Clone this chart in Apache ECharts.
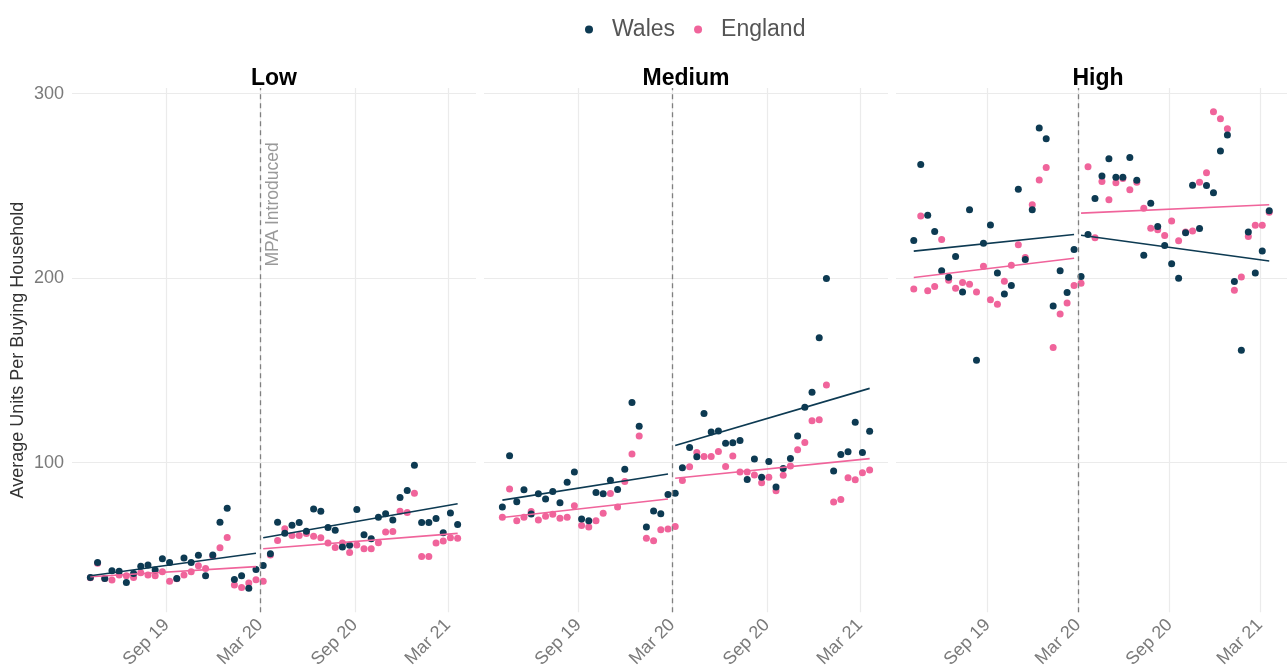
<!DOCTYPE html>
<html>
<head>
<meta charset="utf-8">
<script src="https://cdn.jsdelivr.net/npm/echarts@6/dist/echarts.min.js"></script>
<style>html,body{margin:0;padding:0;background:#fff}#c{width:1287px;height:671px}</style>
</head>
<body>
<div id="c"></div>
<script>
// ---------- DATA ----------
const dates = ['2019-04-06','2019-04-20','2019-05-04','2019-05-18','2019-06-01','2019-06-15','2019-06-29','2019-07-13','2019-07-27','2019-08-10','2019-08-24','2019-09-07','2019-09-21','2019-10-05','2019-10-19','2019-11-02','2019-11-16','2019-11-30','2019-12-14','2019-12-28','2020-01-11','2020-01-25','2020-02-08','2020-02-22',
'2020-03-07','2020-03-21','2020-04-04','2020-04-18','2020-05-02','2020-05-16','2020-05-30','2020-06-13','2020-06-27','2020-07-11','2020-07-25','2020-08-08','2020-08-22','2020-09-05','2020-09-19','2020-10-03','2020-10-17','2020-10-31','2020-11-14','2020-11-28','2020-12-12','2020-12-26','2021-01-09','2021-01-23','2021-02-06','2021-02-20','2021-03-06','2021-03-20'];
const interventionDate = '2020-03-01';
const panels = ['Low', 'Medium', 'High'];
const countries = ['Wales', 'England'];

const lowWales = [37.8,45.9,37.3,41.4,41.2,35.1,40.0,43.9,44.6,41.8,48.0,45.9,37.3,48.4,45.9,49.8,38.7,50.0,67.7,75.3,36.7,38.7,31.9,42.1,
  44.3,50.7,67.7,61.8,66.1,67.6,62.9,74.9,73.7,64.9,63.4,54.3,55.2,74.7,60.9,58.8,70.4,72.4,69.0,81.2,84.9,98.6,67.6,67.6,69.7,62.0,72.8,66.5];
const lowEngland = [37.6,45.5,37.3,36.4,39.1,38.7,37.8,40.3,39.1,38.7,40.9,35.8,37.1,39.1,40.9,44.1,42.6,49.5,53.9,59.5,33.7,32.3,34.8,36.6,
  35.8,50.0,57.9,64.2,60.6,60.6,61.6,60.2,59.3,56.5,54.1,56.5,51.3,55.4,53.4,53.4,56.6,62.5,62.7,73.7,73.0,83.5,49.1,49.1,56.5,57.5,59.3,59.0];
const mediumWales = [76.0,103.8,78.9,85.3,72.2,83.2,80.3,84.4,78.3,89.4,95.0,69.5,68.6,83.9,83.2,90.5,85.5,96.4,132.6,119.7,65.2,73.8,72.4,82.8,
  83.5,97.3,108.2,103.2,126.7,116.7,117.2,110.6,110.8,112.0,90.9,102.0,92.1,100.7,86.9,96.8,102.3,114.5,130.1,138.2,167.7,199.8,95.5,104.5,105.9,121.9,105.5,117.0];
const mediumEngland = [70.4,85.8,68.6,70.4,73.5,69.0,71.0,72.0,69.9,70.4,76.7,66.0,65.2,68.5,72.6,83.3,76.0,89.8,104.7,114.5,59.1,57.7,63.6,64.1,
  65.4,90.3,97.8,105.5,103.4,103.4,106.1,98.0,103.6,95.0,95.0,93.4,89.2,92.1,84.8,93.2,98.2,107.0,110.9,122.8,123.3,142.1,78.7,80.1,91.9,90.7,94.6,96.1];
const highWales = [220.4,261.6,234.2,225.3,204.1,200.5,211.8,192.6,237.1,155.5,219.0,228.9,202.9,191.4,196.1,248.2,210.2,237.1,281.4,275.6,184.9,204.1,192.3,215.6,
  200.9,223.7,243.2,255.4,264.7,254.7,254.8,265.4,253.1,212.4,240.7,228.1,217.7,207.9,200.0,224.7,250.4,227.0,250.2,246.4,269.0,277.6,198.2,160.9,225.1,202.9,214.7,236.6];
const highEngland = [194.1,233.7,193.2,195.5,221.0,198.9,194.6,197.7,196.8,192.5,206.5,188.3,185.9,198.4,207.0,218.1,211.3,239.8,253.2,260.0,162.4,180.6,186.6,196.1,
  197.3,260.4,221.9,252.5,242.5,251.8,254.0,248.0,252.0,238.0,227.1,226.3,223.1,231.0,220.3,225.0,225.6,252.0,257.2,290.2,286.4,281.0,193.5,200.7,222.6,228.7,228.7,235.8];

// fitted trend values: [pre start, pre end, post start, post end]
const lowWalesTrend = [38.7, 50.9, 59.3, 77.8];
const lowEnglandTrend = [38.2, 43.7, 53.4, 61.7];
const mediumWalesTrend = [79.7, 93.9, 109.3, 140.3];
const mediumEnglandTrend = [70.3, 80.3, 91.6, 102.2];
const highWalesTrend = [214.7, 223.7, 223.3, 209.3];
const highEnglandTrend = [200.4, 210.8, 235.3, 239.8];

const xTickDates = ['2019-09-01','2020-03-01','2020-09-01','2021-03-01'];
const xTickLabels = ['Sep 19','Mar 20','Sep 20','Mar 21'];
const yTicks = [100, 200, 300];
const annotationText = 'MPA Introduced';
const annotationPoint = ['2020-03-26', 240];

// ---------- BUILD ----------
const ts = s => Date.parse(s + 'T00:00:00Z');
const X = dates.map(ts);
const cut = ts(interventionDate);
const panelData = [
  {Wales: lowWales, England: lowEngland, WalesTrend: lowWalesTrend, EnglandTrend: lowEnglandTrend},
  {Wales: mediumWales, England: mediumEngland, WalesTrend: mediumWalesTrend, EnglandTrend: mediumEnglandTrend},
  {Wales: highWales, England: highEngland, WalesTrend: highWalesTrend, EnglandTrend: highEnglandTrend}
];
const colors = {Wales: '#0d3a52', England: '#f0649b'};
const FONT = 'Liberation Sans, Arial, sans-serif';

const xSpan = X[X.length - 1] - X[0];
const xMin = X[0] - 0.05 * xSpan, xMax = X[X.length - 1] + 0.05 * xSpan;
const allVals = [].concat(lowWales, lowEngland, mediumWales, mediumEngland, highWales, highEngland);
const vMin = Math.min(...allVals), vMax = Math.max(...allVals);
const yMin = vMin - 0.05 * (vMax - vMin), yMax = vMax + 0.05 * (vMax - vMin);

const preX = X.filter(x => x < cut), postX = X.filter(x => x >= cut);

const gridW = 404, gridStep = 412, gridLeft0 = 72, gridTop = 88, gridH = 529;
const grids = [], xAxes = [], yAxes = [], series = [];
const xTickVals = xTickDates.map(ts);
function xLabel(v) {
  for (let i = 0; i < xTickVals.length; i++) if (Math.abs(xTickVals[i] - v) < 3600000) return xTickLabels[i];
  return '';
}

panels.forEach((p, pi) => {
  grids.push({left: gridLeft0 + pi * gridStep, top: gridTop, width: gridW, height: gridH, containLabel: false});
  xAxes.push({
    type: 'value', gridIndex: pi, min: xMin, max: xMax, scale: true,
    axisLine: {show: false}, axisTick: {show: false, customValues: xTickVals},
    splitLine: {show: true, lineStyle: {color: '#ebebeb', width: 1.2}},
    axisLabel: {
      customValues: xTickVals, rotate: 45, margin: 10,
      fontSize: 18, color: '#7a7a7a', fontFamily: FONT,
      formatter: v => xLabel(v)
    }
  });
  yAxes.push({
    type: 'value', gridIndex: pi, min: yMin, max: yMax,
    axisLine: {show: false}, axisTick: {show: false, customValues: yTicks},
    splitLine: {show: true, lineStyle: {color: '#ebebeb', width: 1.2}},
    axisLabel: {show: pi === 0, customValues: yTicks, fontSize: 18, color: '#7a7a7a', fontFamily: FONT, margin: 8},
    name: pi === 0 ? 'Average Units Per Buying Household' : '',
    nameLocation: 'middle', nameRotate: 90, nameGap: 45,
    nameTextStyle: {fontSize: 18, color: '#333', fontFamily: FONT}
  });

  ['England', 'Wales'].forEach(c => {
    const vals = panelData[pi][c];
    series.push({
      name: c, type: 'scatter', xAxisIndex: pi, yAxisIndex: pi,
      symbol: 'circle', symbolSize: 7, z: c === 'Wales' ? 4 : 3,
      itemStyle: {color: colors[c], opacity: 1},
      data: X.map((x, i) => [x, vals[i]]),
      silent: true
    });
  });

  ['England', 'Wales'].forEach(c => {
    const tr = panelData[pi][c + 'Trend'];
    const segs = [
      [[preX[0], tr[0]], [preX[preX.length - 1], tr[1]]],
      [[postX[0], tr[2]], [postX[postX.length - 1], tr[3]]]
    ];
    segs.forEach((seg, si) => {
      const s = {
        name: c + ' trend', type: 'line', xAxisIndex: pi, yAxisIndex: pi,
        showSymbol: false, symbol: 'none', z: 5, silent: true,
        lineStyle: {color: colors[c], width: 1.6},
        data: seg
      };
      if (c === 'England' && si === 0) {
        s.markLine = {
          silent: true, symbol: 'none', animation: false,
          lineStyle: {color: '#808080', type: [5, 4], width: 1.3},
          label: {show: false},
          data: [{xAxis: cut}]
        };
      }
      series.push(s);
    });
  });
});

// annotation in the Low panel
series.push({
  name: 'annotation', type: 'scatter', xAxisIndex: 0, yAxisIndex: 0,
  symbolSize: 0, silent: true, z: 6,
  data: [[ts(annotationPoint[0]), annotationPoint[1]]],
  label: {show: true, position: 'inside', rotate: 90, formatter: annotationText,
    fontSize: 17.5, color: '#808080', fontFamily: FONT}
});

const chart = echarts.init(document.getElementById('c'), null, {renderer: 'canvas'});
chart.setOption({
  animation: false,
  backgroundColor: '#ffffff',
  textStyle: {fontFamily: FONT},
  legend: {
    data: countries, left: 580, top: 13, icon: 'circle',
    itemWidth: 8, itemHeight: 8, itemGap: 19,
    textStyle: {fontSize: 23, color: '#555555', fontFamily: FONT, padding: [0, 0, 0, 14]}
  },
  graphic: panels.map((p, pi) => ({
    type: 'text', x: gridLeft0 + pi * gridStep + gridW / 2, y: 79, silent: true,
    style: {text: p, align: 'center', verticalAlign: 'middle', textAlign: 'center', textVerticalAlign: 'middle',
      fontSize: 23, fontWeight: 'bold', fontFamily: FONT, fill: '#000'}
  })),
  grid: grids, xAxis: xAxes, yAxis: yAxes, series: series
});
</script>
</body>
</html>
